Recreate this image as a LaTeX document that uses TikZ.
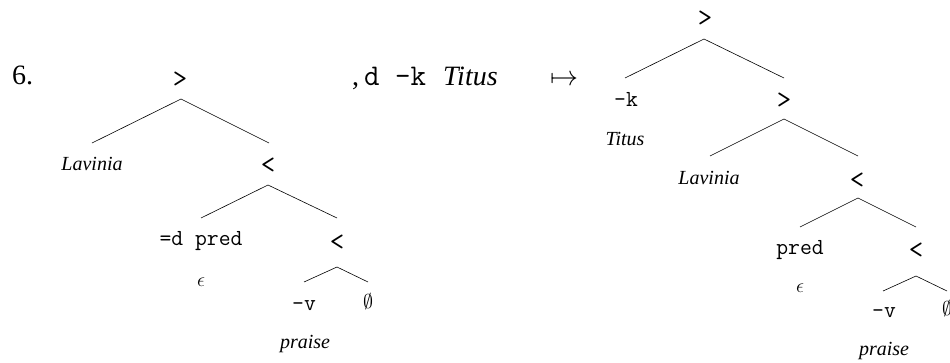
\RequirePackage{fix-cm}
\documentclass[tikz,border=0pt]{standalone}
\usepackage{fontspec}
\setmainfont{Liberation Serif}
\begin{document}
\begin{tikzpicture}[x=1pt,y=-1pt,
  tn/.style={inner sep=0pt,anchor=base,font=\fontsize{20}{22}\selectfont},
  ttn/.style={tn,font=\fontsize{23}{25}\selectfont\ttfamily},
  ang/.style={tn,font=\fontsize{28}{30}\selectfont\ttfamily},
  lex/.style={tn,font=\fontsize{20}{22}\selectfont\itshape},
  eps/.style={tn,font=\fontsize{20}{22}\selectfont},
  emp/.style={tn,font=\fontsize{20}{22}\selectfont},
  big/.style={inner sep=0pt,anchor=base west,font=\fontsize{28}{30}\selectfont},
  br/.style={line width=0.6pt}]
\useasboundingbox (0,0) rectangle (950,362);

% ---- left tree ----
\node[big] (six) at (12,84) {6.};
\node[ang] (a0) at (180,87) {>};
\node[lex] (alav) at (92,170) {Lavinia};
\node[ang] (a1) at (268,173) {<};
\node[ttn] (adp) at (201,245) {=d pred};
\node[eps] (aeps) at (201,286) {$\epsilon$};
\node[ang] (a2) at (337,250) {<};
\node[ttn] (av) at (304,310) {-v};
\node[emp] (aemp) at (368,308) {$\emptyset$};
\node[lex] (apr) at (305,348) {praise};

\draw[br] ([yshift=-12pt,xshift=1pt]a0.base) -- ([yshift=27pt]alav.base);
\draw[br] ([yshift=-12pt,xshift=1pt]a0.base) -- ([yshift=30pt,xshift=1pt]a1.base);
\draw[br] ([yshift=-12pt]a1.base) -- ([yshift=27pt]adp.base);
\draw[br] ([yshift=-12pt]a1.base) -- ([yshift=32pt]a2.base);
\draw[br] ([yshift=-17pt]a2.base) -- ([yshift=28pt]av.base);
\draw[br] ([yshift=-17pt]a2.base) -- ([yshift=26pt]aemp.base);

% ---- middle ----
\node[big] (comma) at (352,85) {,};
\node[big,font=\fontsize{30}{32}\selectfont\ttfamily] (dk) at (364,85) {d -k};
\node[big,font=\fontsize{28}{30}\selectfont\itshape] (tit) at (443,85) {Titus};
\node[inner sep=0pt,anchor=base,font=\fontsize{28}{30}\selectfont] (arr) at (564,85.5) {$\mapsto$};

% ---- right tree ----
\node[ang] (b0) at (705,26) {>};
\node[ttn] (bk) at (626,106) {-k};
\node[lex] (btit) at (625,145) {Titus};
\node[ang] (b1) at (784,108) {>};
\node[lex] (blav) at (709,184) {Lavinia};
\node[ang] (b2) at (857,188) {<};
\node[ttn] (bpred) at (800,254) {pred};
\node[eps] (beps) at (800,292) {$\epsilon$};
\node[ang] (b3) at (916,258) {<};
\node[ttn] (bv) at (884,317) {-v};
\node[emp] (bemp) at (947,315) {$\emptyset$};
\node[lex] (bpr) at (884,355) {praise};

\draw[br] ([yshift=-13pt,xshift=-1pt]b0.base) -- ([yshift=28pt,xshift=-1pt]bk.base);
\draw[br] ([yshift=-13pt,xshift=-1pt]b0.base) -- ([yshift=30pt]b1.base);
\draw[br] ([yshift=-11pt]b1.base) -- ([yshift=28pt,xshift=1pt]blav.base);
\draw[br] ([yshift=-11pt]b1.base) -- ([yshift=32pt,xshift=1pt]b2.base);
\draw[br] ([yshift=-10pt,xshift=1pt]b2.base) -- ([yshift=27pt]bpred.base);
\draw[br] ([yshift=-10pt,xshift=1pt]b2.base) -- ([yshift=31pt]b3.base);
\draw[br] ([yshift=-18pt]b3.base) -- ([yshift=26pt,xshift=-1pt]bv.base);
\draw[br] ([yshift=-18pt]b3.base) -- ([yshift=24pt]bemp.base);
\end{tikzpicture}
\end{document}
